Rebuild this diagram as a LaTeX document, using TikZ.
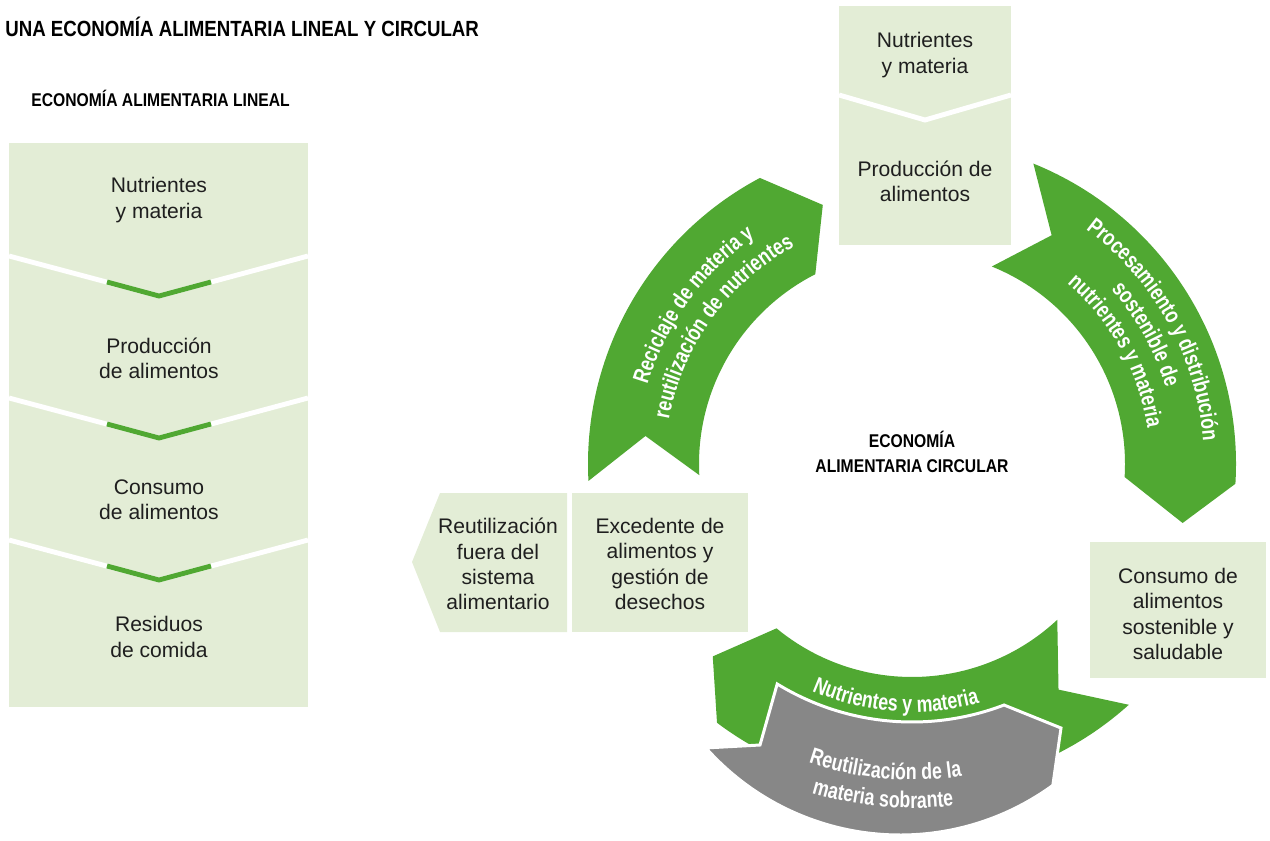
\documentclass[tikz,border=0pt]{standalone}
\usepackage{fontspec}
\setmainfont{Liberation Sans}
\newfontfamily\condfont{Liberation Sans}[FakeStretch=0.85]
\newfontfamily\narrowfont{Liberation Sans}[FakeStretch=0.78]
\usetikzlibrary{positioning}
\usetikzlibrary{decorations.text}
\definecolor{paleGreen}{RGB}{227,237,214}
\definecolor{leafGreen}{RGB}{80,168,50}
\definecolor{stoneGrey}{RGB}{135,135,135}
\newcommand{\bandfont}{\narrowfont\bfseries\fontsize{13}{14}\selectfont}

\begin{document}
\begin{tikzpicture}[x=0.02cm,y=-0.02cm]
	\tikzset{stage/.style = {fill=paleGreen}}
	\tikzset{stagetext/.style = {align=center, inner sep=0pt, text=black!88,
			font=\fontsize{12}{14.35}\selectfont}}
	\tikzset{heading/.style = {inner sep=0pt,
			font=\condfont\bfseries\fontsize{10.5}{14.2}\selectfont}}
	\tikzset{titlehead/.style = {inner sep=0pt,
			font=\condfont\bfseries\fontsize{12.5}{15}\selectfont}}
	\tikzset{split/.style = {white, line width=2.8pt}}
	\tikzset{splitmark/.style = {leafGreen, line width=2.8pt}}
	\tikzset{band/.style = {fill=leafGreen}}
	\tikzset{bandlabel/.style = {decorate, decoration={text along path,
				text align=center, text color=white}}}
	
	\useasboundingbox (0,0) rectangle (1270,841);
	\coordinate (c) at (912,464);
	
	% titles
	\node[titlehead, anchor=base west] (maintitle) at (5,37) {UNA ECONOMÍA ALIMENTARIA LINEAL Y CIRCULAR};
	\node[heading, anchor=base west] (lineartitle) at (31,107) {ECONOMÍA ALIMENTARIA LINEAL};
	\node[heading, align=center] (circtitle) at (912,452) {ECONOMÍA\\ALIMENTARIA CIRCULAR};
	
	% linear column
	\fill[stage] (9,143) rectangle (308,707);
	\foreach \y in {256,398,540}{
		\draw[split] (9,\y) -- (159,\y+40) -- (308,\y);
		\draw[splitmark] (107,\y+26) -- (159,\y+40) -- (211,\y+26);
	}
	\node[stagetext] (lnutri) at (159,200) {Nutrientes\\y materia};
	\node[stagetext] (lprod) at (159,358) {Producción\\de alimentos};
	\node[stagetext] (lcons) at (159,500) {Consumo\\de alimentos};
	\node[stagetext] (lresid) at (159,637) {Residuos\\de comida};
	
	% circular boxes
	\fill[stage] (839,6) rectangle (1011,245);
	\draw[split] (839,95) -- (925,120) -- (1011,95);
	\fill[stage] (440,493) -- (567,493) -- (567,632) -- (440,632) -- (412,562) -- cycle;
	\fill[stage] (572,493) rectangle (748,632);
	\fill[stage] (1090,542) rectangle (1266,678);
	\node[stagetext] (cnutri) at (925,55) {Nutrientes\\y materia};
	\node[stagetext] (cprod) at (925,181) {Producción de\\alimentos};
	\node[stagetext] (creuse) at (498,564) {Reutilización\\fuera del\\sistema\\alimentario};
	\node[stagetext] (csurplus) at (660,564) {Excedente de\\alimentos y\\gestión de\\desechos};
	\node[stagetext] (ccons) at (1178,614) {Consumo de\\alimentos\\sostenible y\\saludable};
	
	% circular bands
	\fill[band] ([shift={(c)}]177:324) arc[start angle=177, end angle=242, radius=324]
		-- ([shift={(c)}]251:274) -- ([shift={(c)}]243:213)
		arc[start angle=243, end angle=177, radius=213] -- ([shift={(c)}]186:268) -- cycle;
	\fill[band] ([shift={(c)}]292:324) arc[start angle=292, end angle=363.5, radius=324]
		-- ([shift={(c)}]372.3:277) -- ([shift={(c)}]363.5:213)
		arc[start angle=363.5, end angle=292, radius=213] -- ([shift={(c)}]301.4:268) -- cycle;
	\fill[band] ([shift={(c)}]48:324) arc[start angle=48, end angle=127, radius=324]
		-- ([shift={(c)}]136:277) -- ([shift={(c)}]129.5:213)
		arc[start angle=129.5, end angle=47, radius=213] -- ([shift={(c)}]57:269) -- cycle;
	\filldraw[fill=stoneGrey, draw=white, line width=1.7pt]
		([shift={(c)}]121.5:258) arc[start angle=121.5, end angle=69.1, radius=258]
		-- (1061,728) -- ([shift={(900,575)}]54:260)
		arc[start angle=54, end angle=138.3, radius=260] -- (760,745) -- cycle;
	
	% band labels
	\path[bandlabel, decoration={text={|\bandfont|Reciclaje de materia y}}]
		([shift={(c)}]171:276) arc[start angle=171, end angle=261, radius=276];
	\path[bandlabel, decoration={text={|\bandfont|reutilización de nutrientes}}]
		([shift={(c)}]171:247) arc[start angle=171, end angle=261, radius=247];
	\path[bandlabel, decoration={text={|\bandfont|Procesamiento y distribución}}]
		([shift={(c)}]286:292) arc[start angle=286, end angle=376, radius=292];
	\path[bandlabel, decoration={text={|\bandfont|sostenible de}}]
		([shift={(c)}]286:265) arc[start angle=286, end angle=376, radius=265];
	\path[bandlabel, decoration={text={|\bandfont|nutrientes y materia}}]
		([shift={(c)}]286:238) arc[start angle=286, end angle=376, radius=238];
	\path[bandlabel, decoration={text={|\bandfont|Nutrientes y materia}}]
		([shift={(c)}]139:248) arc[start angle=139, end angle=49, radius=248];
	\path[bandlabel, decoration={text={|\bandfont|Reutilización de la}}]
		([shift={(c)}]140:316) arc[start angle=140, end angle=50, radius=316];
	\path[bandlabel, decoration={text={|\bandfont|materia sobrante}}]
		([shift={(c)}]140:344) arc[start angle=140, end angle=50, radius=344];
	
\end{tikzpicture}
\end{document}
